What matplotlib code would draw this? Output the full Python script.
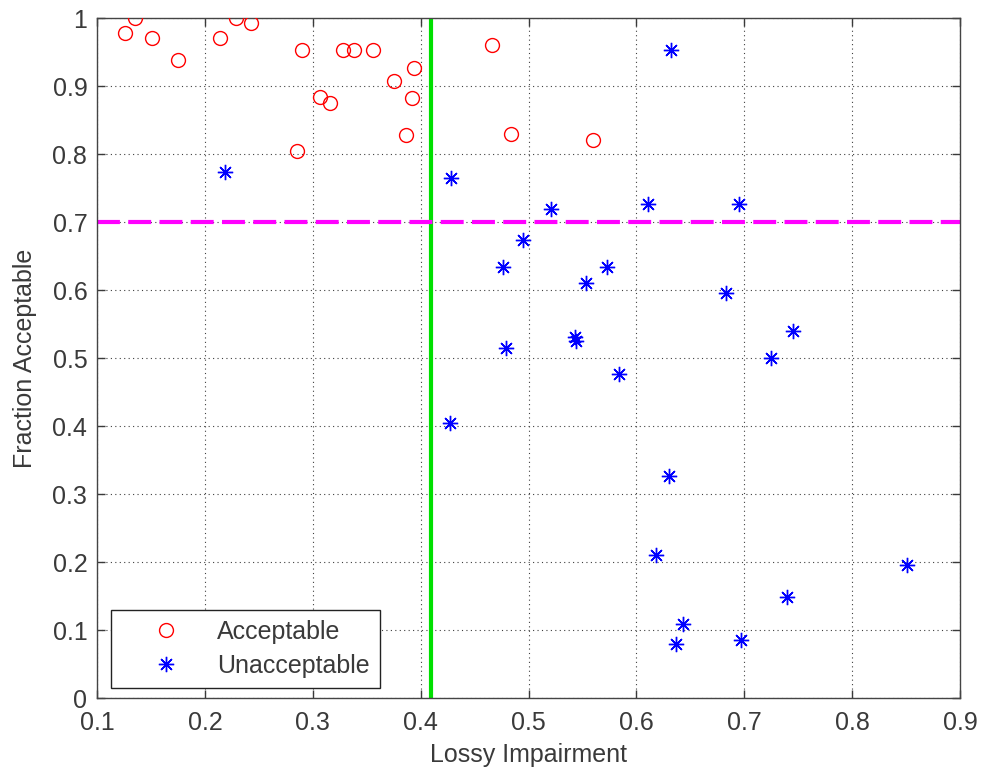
import numpy as np
import matplotlib.pyplot as plt

plt.rcParams['font.family'] = ['Liberation Sans', 'DejaVu Sans']

# acceptable samples (red circles)
acc_x = [0.126, 0.135, 0.151, 0.175, 0.214, 0.229, 0.243, 0.290, 0.328, 0.338,
         0.356, 0.307, 0.316, 0.375, 0.394, 0.392, 0.386, 0.285, 0.466, 0.484,
         0.560]
acc_y = [0.978, 1.000, 0.971, 0.938, 0.971, 1.000, 0.993, 0.953, 0.953, 0.953,
         0.953, 0.884, 0.875, 0.907, 0.926, 0.882, 0.828, 0.804, 0.960, 0.829,
         0.821]

# unacceptable samples (blue asterisks)
unacc_x = [0.219, 0.632, 0.428, 0.521, 0.611, 0.695, 0.495, 0.476, 0.553, 0.573,
           0.683, 0.745, 0.725, 0.479, 0.543, 0.544, 0.584, 0.427, 0.630, 0.618,
           0.851, 0.740, 0.643, 0.637, 0.697]
unacc_y = [0.773, 0.953, 0.765, 0.719, 0.726, 0.727, 0.674, 0.634, 0.610, 0.634,
           0.595, 0.539, 0.500, 0.515, 0.531, 0.525, 0.476, 0.405, 0.327, 0.210,
           0.196, 0.149, 0.109, 0.079, 0.085]

x_thresh = 0.41
y_thresh = 0.7

xticks = ['0.1', '0.2', '0.3', '0.4', '0.5', '0.6', '0.7', '0.8', '0.9']
yticks = ['0', '0.1', '0.2', '0.3', '0.4', '0.5', '0.6', '0.7', '0.8', '0.9', '1']

fs = 18
txt = '#3a3a3a'

fig = plt.figure(figsize=(9.81, 7.7), dpi=100)
ax = fig.add_axes([0.0989, 0.0935, 0.8797, 0.8831])

ax.plot(acc_x, acc_y, 'o', color='red', mfc='none', ms=10, mew=1.0,
        label='Acceptable', zorder=3)
ax.plot(unacc_x, unacc_y, linestyle='none', marker=(8, 2, 0), color='blue',
        ms=11, mew=1.0, label='Unacceptable', zorder=3)

ax.axvline(x_thresh, color='#00e000', lw=3, zorder=2)
ax.axhline(y_thresh, color='magenta', lw=3, dashes=(5.5, 2.0), zorder=2)

ax.set_xlim(0.1, 0.9)
ax.set_ylim(0, 1)
ax.set_xticks(np.arange(0.1, 0.91, 0.1))
ax.set_yticks(np.arange(0, 1.01, 0.1))
ax.set_xticklabels(xticks)
ax.set_yticklabels(yticks)

ax.grid(True, linestyle=(0, (1, 3)), color='#404040', lw=0.8)
ax.tick_params(direction='in', top=True, right=True, length=6, width=1,
               labelsize=fs, colors=txt)
ax.tick_params(axis='x', pad=9)
ax.tick_params(axis='y', pad=7)
for s in ax.spines.values():
    s.set_color('#444444')
    s.set_linewidth(1)

ax.set_xlabel('Lossy Impairment', fontsize=fs, color=txt, labelpad=6)
ax.set_ylabel('Fraction Acceptable', fontsize=fs, color=txt, labelpad=11)

leg = ax.legend(loc='lower left', bbox_to_anchor=(0.016, 0.0147), fontsize=fs,
                fancybox=False, framealpha=1, edgecolor='#222222',
                handlelength=3.6, handletextpad=0.25, borderpad=0.4,
                labelspacing=0.42, borderaxespad=0)
leg.get_frame().set_linewidth(1)
for t in leg.get_texts():
    t.set_color(txt)

fig.savefig('out.png', dpi=100, facecolor='white')
